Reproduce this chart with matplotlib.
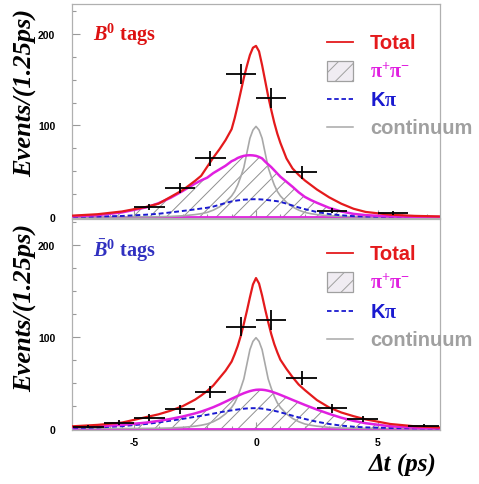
import matplotlib
matplotlib.use("Agg")
import matplotlib.pyplot as plt
from matplotlib.patches import Rectangle
from matplotlib.ticker import MultipleLocator

plt.rcParams.update({
    "font.family": "Liberation Sans",
    "font.weight": "bold",
    "axes.unicode_minus": False,
    "hatch.color": "#909090",
    "hatch.linewidth": 0.7,
    "mathtext.fontset": "custom",
    "mathtext.rm": "Liberation Serif",
    "mathtext.it": "Liberation Serif:italic",
    "mathtext.bf": "Liberation Serif:bold",
    "mathtext.bfit": "Liberation Serif:bold:italic",
})

# ---- binned data (1.25 ps bins) ----
top_x = [-4.375, -3.125, -1.875, -0.625, 0.625, 1.875, 3.125, 5.625]
top_y = [11, 32, 64, 156, 130, 49, 7, 4]
top_err = [3, 5.5, 8, 11, 11, 7, 2.5, 2]

bot_x = [-6.875, -5.625, -4.375, -3.125, -1.875, -0.625, 0.625, 1.875, 3.125, 4.375, 6.875]
bot_y = [2, 6.5, 12, 21, 39.5, 111, 118, 55, 22, 10.4, 3]
bot_err = [1.5, 2.5, 3.5, 4.6, 6.5, 10.5, 11, 7.5, 4.7, 3.2, 1.7]

bin_half_width = 0.625

# ---- fitted curves sampled on a common dt grid ----
dt_grid = [-7.5, -6.5, -5.5, -4.5, -4.0, -3.5, -3.0, -2.5, -2.25, -2.0, -1.75, -1.5, -1.25,
           -1.0, -0.875, -0.75, -0.625, -0.5, -0.375, -0.25, -0.125, 0.0, 0.125, 0.25, 0.375,
           0.5, 0.625, 0.75, 0.875, 1.0, 1.25, 1.5, 1.75, 2.0, 2.25, 2.5, 3.0, 3.5, 4.0, 4.5,
           5.5, 6.5, 7.5]

continuum = [0, 0, 0.05, 0.15, 0.3, 0.6, 1.3, 2.6, 3.6, 5, 7.5, 11, 16,
             23, 28, 35, 44, 54, 70, 86, 95, 99, 95, 86, 70,
             54, 44, 35, 28, 23, 16, 11, 7.5, 5, 3.6, 2.6, 1.3, 0.6, 0.3, 0.15,
             0.05, 0, 0]

top_kpi = [0.2, 0.5, 1.1, 2.5, 3.5, 5.0, 6.6, 8.3, 9.2, 10.1, 11.4, 13.3, 15.3,
           17.0, 17.6, 18.1, 18.5, 18.9, 19.1, 19.3, 19.4, 19.4, 19.3, 19.1, 18.8,
           18.4, 18.0, 17.6, 17.2, 16.5, 14.6, 12.5, 10.4, 8.6, 7.0, 5.4, 3.2, 1.8, 0.9, 0.5,
           0.2, 0.1, 0.05]

top_pipi = [0.8, 2.0, 5.0, 10.5, 15, 21, 28.5, 36.5, 40, 43, 48, 52, 56,
            61, 62.5, 64.5, 65.8, 66.8, 67.3, 67.5, 67.3, 66.8, 65.6, 64, 60.5,
            57.5, 54.5, 51, 47.5, 44, 38.5, 33, 27, 22, 18.5, 15.5, 10, 6, 3.4, 2.0,
            0.6, 0.2, 0.05]

top_total = [1.5, 3, 6, 11, 14.5, 22, 29.5, 39.5, 45, 55, 65, 74, 84,
             96, 108, 122, 137, 152, 165, 177, 185, 187, 181, 166, 149,
             132, 117, 103, 91, 81, 64, 53, 46, 40, 35, 30, 21.5, 14.5, 9, 5.5,
             2.5, 1.2, 0.6]

bot_kpi = [0.5, 1.2, 2.6, 5.0, 6.6, 8.6, 10.6, 12.8, 13.9, 15.0, 16.3, 17.6, 18.8,
           19.8, 20.3, 20.8, 21.2, 21.6, 21.9, 22.1, 22.2, 22.2, 22.0, 21.7, 21.2,
           20.6, 20.0, 19.3, 18.6, 17.7, 15.9, 14.0, 12.2, 10.5, 8.9, 7.4, 5.0, 3.2, 2.0, 1.3,
           0.6, 0.3, 0.1]

bot_pipi = [1.5, 2.5, 4.0, 6.5, 8.3, 10.5, 13.2, 16.5, 18.5, 20.8, 23.3, 26.2, 29.3,
            32.5, 34.0, 35.6, 37.1, 38.5, 39.7, 40.8, 41.6, 42.2, 42.4, 42.3, 41.9,
            41.2, 40.3, 39.2, 38.0, 36.7, 34.0, 31.2, 28.5, 25.8, 23.2, 20.7, 16.0, 11.8, 8.4, 5.8,
            2.5, 1.0, 0.4]

bot_total = [2.5, 4.0, 6.5, 12.5, 15.5, 19.5, 24.5, 31.5, 36, 41, 47, 55, 63,
             73, 81, 90, 101, 114, 128, 143, 157, 164, 158, 145, 130,
             116, 103, 92, 83, 75, 65, 56, 48, 42, 36.5, 31, 23, 17.5, 13.5, 10,
             5, 2.5, 1.2]

legend_labels = ["Total", r"$\mathbf{\pi^{+}\pi^{-}}$", r"K$\mathbf{\pi}$", "continuum"]

RED = "#e41a1c"
MAGENTA = "#e020e0"
BLUE = "#1a1ad0"
GRAY = "#a8a8a8"
legend_colors = [RED, MAGENTA, BLUE, "#a0a0a0"]

fig = plt.figure(figsize=(4.79, 4.85), dpi=100)
ax_top = fig.add_axes([0.1503, 0.5485, 0.7683, 0.4412])
ax_bot = fig.add_axes([0.1503, 0.1113, 0.7683, 0.4350])


def draw_panel(ax, xs, ys, errs, kpi, pipi, total, ylim, title, title_color, legend_rows):
    ax.fill_between(dt_grid, 0, pipi, facecolor="none", hatch="//", edgecolor="#909090",
                    linewidth=0, zorder=1)
    ax.axhline(0, color=MAGENTA, lw=2.0, zorder=2)
    ax.plot(dt_grid, continuum, color=GRAY, lw=1.2, zorder=3)
    ax.plot(dt_grid, kpi, color=BLUE, lw=1.4, ls=(0, (2.5, 1.5)), zorder=3)
    ax.plot(dt_grid, pipi, color=MAGENTA, lw=1.8, zorder=3)
    ax.plot(dt_grid, total, color=RED, lw=1.6, zorder=4)
    ax.errorbar(xs, ys, xerr=bin_half_width, yerr=errs, fmt="none", ecolor="black",
                elinewidth=1.3, capsize=0, zorder=5)

    ax.set_xlim(-7.55, 7.55)
    ax.set_ylim(*ylim)
    ax.xaxis.set_major_locator(MultipleLocator(5))
    ax.xaxis.set_minor_locator(MultipleLocator(1))
    ax.yaxis.set_major_locator(MultipleLocator(100))
    ax.yaxis.set_minor_locator(MultipleLocator(25))
    ax.tick_params(which="both", direction="in", color="#999999", width=0.8,
                   labelsize=7.5, pad=12)
    ax.tick_params(which="major", length=6)
    ax.tick_params(which="minor", length=3)
    ax.tick_params(axis="x", pad=5)
    for s in ax.spines.values():
        s.set_color("#b0b0b0")
        s.set_linewidth(0.9)

    ax.text(0.057, title[1], title[0], transform=ax.transAxes, color=title_color,
            fontsize=14.5, family="Liberation Serif", weight="bold", va="baseline")

    # legend entries
    hx0, hx1, tx = 0.693, 0.764, 0.81
    for i, (lab, col, yy) in enumerate(zip(legend_labels, legend_colors, legend_rows)):
        if i == 0:
            ax.plot([hx0, hx1], [yy, yy], color=RED, lw=1.3, transform=ax.transAxes, clip_on=False)
        elif i == 1:
            ax.add_patch(Rectangle((hx0, yy - 0.047), hx1 - hx0, 0.094, transform=ax.transAxes,
                                   facecolor="#f0ecf2", edgecolor="#a0a0a0", hatch="//",
                                   lw=0.9, clip_on=False))
        elif i == 2:
            ax.plot([hx0, hx1], [yy, yy], color=BLUE, lw=1.3, ls=(0, (2.5, 1.5)),
                    transform=ax.transAxes, clip_on=False)
        else:
            ax.plot([hx0, hx1], [yy, yy], color=GRAY, lw=1.1, transform=ax.transAxes, clip_on=False)
        ax.text(tx, yy, lab, transform=ax.transAxes, color=col, fontsize=14.5,
                weight="bold", va="center", ha="left", clip_on=False)


draw_panel(ax_top, top_x, top_y, top_err, top_kpi, top_pipi, top_total, (-1.1, 232.8),
           (r"$\mathbfit{B}^{\mathbf{0}}$ tags", 0.832), "#dd1111",
           [0.822, 0.687, 0.556, 0.425])
draw_panel(ax_bot, bot_x, bot_y, bot_err, bot_kpi, bot_pipi, bot_total, (-1.6, 228.3),
           (r"$\bar{\mathbfit{B}}^{\mathbf{0}}$ tags", 0.826), "#3030c0",
           [0.839, 0.701, 0.564, 0.431])
ax_top.tick_params(axis="x", labelbottom=False)

ylab_kw = dict(rotation=90, ha="center", va="center", fontsize=19,
               family="Liberation Serif", style="italic", weight="bold")
fig.text(0.054, 0.808, "Events/(1.25ps)", **ylab_kw)
fig.text(0.054, 0.365, "Events/(1.25ps)", **ylab_kw)
fig.text(0.912, 0.041, "Δt (ps)", ha="right", va="center", fontsize=18,
         family="Liberation Serif", style="italic", weight="bold")

fig.savefig("out.png", dpi=100)
